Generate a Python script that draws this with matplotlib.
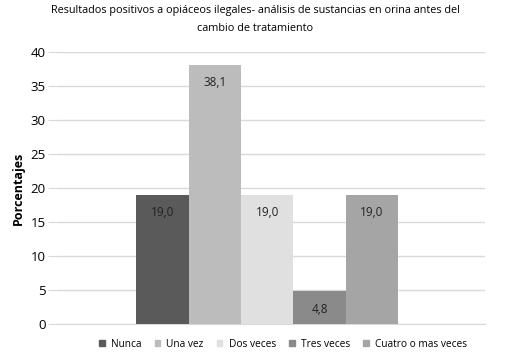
import numpy as np
import matplotlib.pyplot as plt
from matplotlib.patches import Patch

# datos
categorias = ['Nunca', 'Una vez', 'Dos veces', 'Tres veces', 'Cuatro o mas veces']
valores = [19.0, 38.1, 19.0, 4.8, 19.0]
etiquetas = ['19,0', '38,1', '19,0', '4,8', '19,0']
colores = ['#5a5a5a', '#bcbcbc', '#e0e0e0', '#8a8a8a', '#a5a5a5']

plt.rcParams['font.family'] = ['Open Sans', 'DejaVu Sans']

fig = plt.figure(figsize=(5.1, 3.61), dpi=100)
ax = fig.add_axes([0.114, 0.1025, 0.837, 0.7535])

x = np.arange(len(categorias))
ax.bar(x, valores, width=1.0, color=colores, zorder=3)

for xi, v, t in zip(x, valores, etiquetas):
    ax.annotate(t, (xi, v), xytext=(0, -13), textcoords='offset points',
                ha='center', va='center', fontsize=8.5, color='#222222', zorder=4)

ax.set_xlim(-1.99, 6.16)
ax.set_ylim(0, 40)
ax.set_yticks(range(0, 41, 5))
ax.set_xticks([])
ax.yaxis.grid(True, color='#d9d9d9', linewidth=1, zorder=0)
for s in ['top', 'right', 'left']:
    ax.spines[s].set_visible(False)
ax.spines['bottom'].set_color('#d9d9d9')
ax.tick_params(axis='y', length=7, color='#d9d9d9', labelsize=9.5, pad=2)

ax.set_ylabel('Porcentajes', fontsize=9, fontweight='bold', labelpad=4)

fig.suptitle('Resultados positivos a opiáceos ilegales- análisis de sustancias en orina antes del\ncambio de tratamiento',
             fontsize=7.8, y=0.985, linespacing=1.85)

handles = [Patch(color=c) for c in colores]
fig.legend(handles, categorias, loc='center', bbox_to_anchor=(0.555, 0.046), ncol=5,
           frameon=False, fontsize=7.3, handlelength=0.55, handleheight=0.55,
           handletextpad=0.6, columnspacing=1.3)

plt.savefig('out.png')
plt.close()
